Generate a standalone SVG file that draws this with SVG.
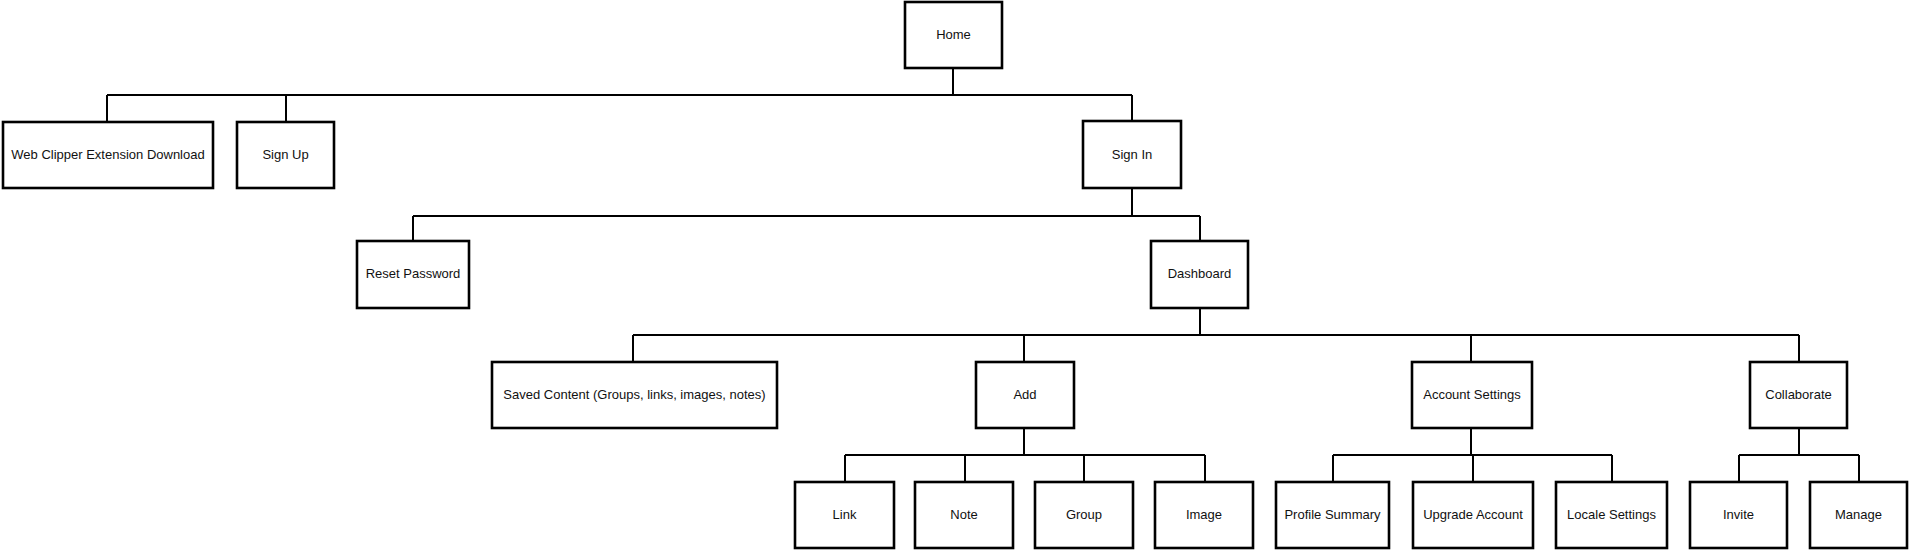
<svg xmlns="http://www.w3.org/2000/svg" width="1909" height="550" viewBox="0 0 1909 550">
<style>
.box{fill:#fff;stroke:#000;stroke-width:2.6}
.lbl{font-family:"Liberation Sans",Arial,sans-serif;font-size:13px;fill:#111;text-anchor:middle;dominant-baseline:central}
.con{fill:none;stroke:#000;stroke-width:2}
</style>
<rect width="1909" height="550" fill="#fff"/>
<g id="connectors" class="con">
<path d="M953,68V95M107,95H1132M107,95V122M286,95V122M1132,95V121"/>
<path d="M1132,188V216M413,216H1200M413,216V241M1200,216V241"/>
<path d="M1200,308V335M633,335H1799M633,335V362M1024,335V362M1471,335V362M1799,335V362"/>
<path d="M1024,428V455M845,455H1205M845,455V482M965,455V482M1084,455V482M1205,455V482"/>
<path d="M1471,428V455M1333,455H1612M1333,455V482M1473,455V482M1612,455V482"/>
<path d="M1799,428V455M1739,455H1859M1739,455V482M1859,455V482"/>
</g>
<g id="home"><rect class="box" x="905" y="2" width="97" height="66"/><text class="lbl" x="953.5" y="34">Home</text></g>
<g id="webclipper"><rect class="box" x="3" y="122" width="210" height="66"/><text class="lbl" x="108" y="154">Web Clipper Extension Download</text></g>
<g id="signup"><rect class="box" x="237" y="122" width="97" height="66"/><text class="lbl" x="285.5" y="154">Sign Up</text></g>
<g id="signin"><rect class="box" x="1083" y="121" width="98" height="67"/><text class="lbl" x="1132" y="154">Sign In</text></g>
<g id="reset"><rect class="box" x="357" y="241" width="112" height="67"/><text class="lbl" x="413" y="273.5">Reset Password</text></g>
<g id="dashboard"><rect class="box" x="1151" y="241" width="97" height="67"/><text class="lbl" x="1199.5" y="273.5">Dashboard</text></g>
<g id="saved"><rect class="box" x="492" y="362" width="285" height="66"/><text class="lbl" x="634.5" y="394">Saved Content (Groups, links, images, notes)</text></g>
<g id="add"><rect class="box" x="976" y="362" width="98" height="66"/><text class="lbl" x="1025" y="394">Add</text></g>
<g id="account"><rect class="box" x="1412" y="362" width="120" height="66"/><text class="lbl" x="1472" y="394">Account Settings</text></g>
<g id="collaborate"><rect class="box" x="1750" y="362" width="97" height="66"/><text class="lbl" x="1798.5" y="394">Collaborate</text></g>
<g id="link"><rect class="box" x="795" y="482" width="99" height="66"/><text class="lbl" x="844.5" y="514">Link</text></g>
<g id="note"><rect class="box" x="915" y="482" width="98" height="66"/><text class="lbl" x="964" y="514">Note</text></g>
<g id="group"><rect class="box" x="1035" y="482" width="98" height="66"/><text class="lbl" x="1084" y="514">Group</text></g>
<g id="image"><rect class="box" x="1155" y="482" width="98" height="66"/><text class="lbl" x="1204" y="514">Image</text></g>
<g id="profile"><rect class="box" x="1276" y="482" width="113" height="66"/><text class="lbl" x="1332.5" y="514">Profile Summary</text></g>
<g id="upgrade"><rect class="box" x="1413" y="482" width="120" height="66"/><text class="lbl" x="1473" y="514">Upgrade Account</text></g>
<g id="locale"><rect class="box" x="1556" y="482" width="111" height="66"/><text class="lbl" x="1611.5" y="514">Locale Settings</text></g>
<g id="invite"><rect class="box" x="1690" y="482" width="97" height="66"/><text class="lbl" x="1738.5" y="514">Invite</text></g>
<g id="manage"><rect class="box" x="1810" y="482" width="97" height="66"/><text class="lbl" x="1858.5" y="514">Manage</text></g>
</svg>
